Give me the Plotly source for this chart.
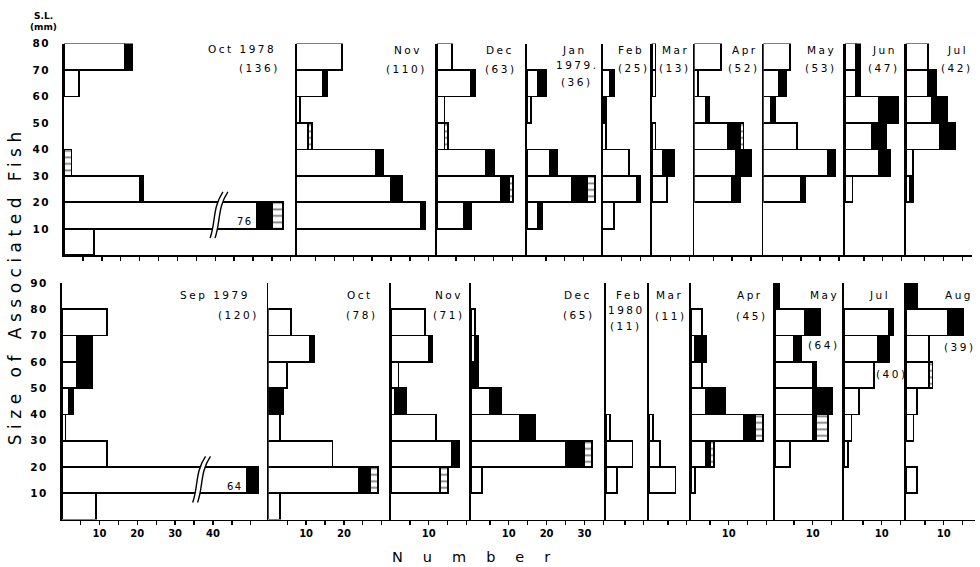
import plotly.graph_objects as go

# ---------------- DATA ----------------
# size classes (mm SL): index 0 = 0-10, 1 = 10-20, ...
top_bins = [5, 15, 25, 35, 45, 55, 65, 75]
bottom_bins = [5, 15, 25, 35, 45, 55, 65, 75, 85]

top_labels = [["Oct 1978"], ["Nov"], ["Dec"], ["Jan", "1979."], ["Feb"], ["Mar"],
              ["Apr"], ["May"], ["Jun"], ["Jul"]]
top_counts = [136, 110, 63, 36, 25, 13, 52, 53, 47, 42]
top_white = [
    [8, 76, 20, 0, 0, 0, 4, 16],
    [0, 33, 25, 21, 3, 1, 7, 12],
    [0, 7, 17, 13, 2, 2, 9, 4],
    [0, 3, 12, 6, 0, 1, 3, 0],
    [0, 3, 9, 7, 1, 0, 2, 0],
    [0, 0, 4, 3, 1, 0, 1, 1],
    [0, 0, 10, 11, 9, 3, 1, 7],
    [0, 0, 10, 17, 9, 2, 4, 7],
    [0, 0, 2, 9, 7, 9, 3, 3],
    [0, 0, 1, 2, 9, 7, 6, 6],
]
top_black = [
    [0, 4, 1, 0, 0, 0, 0, 2],
    [0, 1, 3, 2, 0, 0, 1, 0],
    [0, 2, 2, 2, 0, 0, 1, 0],
    [0, 1, 4, 2, 0, 0, 2, 0],
    [0, 0, 1, 0, 0, 1, 1, 0],
    [0, 0, 0, 3, 0, 0, 0, 0],
    [0, 0, 2, 4, 3, 1, 0, 0],
    [0, 0, 1, 2, 0, 1, 2, 0],
    [0, 0, 0, 3, 4, 5, 1, 1],
    [0, 0, 1, 0, 4, 4, 2, 0],
]
top_hatched = [
    [0, 3, 0, 2, 0, 0, 0, 0],
    [0, 0, 0, 0, 1, 0, 0, 0],
    [0, 0, 1, 0, 1, 0, 0, 0],
    [0, 0, 2, 0, 0, 0, 0, 0],
    [0, 0, 0, 0, 0, 0, 0, 0],
    [0, 0, 0, 0, 0, 0, 0, 0],
    [0, 0, 0, 0, 1, 0, 0, 0],
    [0, 0, 0, 0, 0, 0, 0, 0],
    [0, 0, 0, 0, 0, 0, 0, 0],
    [0, 0, 0, 0, 0, 0, 0, 0],
]

bottom_labels = [["Sep 1979"], ["Oct"], ["Nov"], ["Dec"], ["Feb", "1980"], ["Mar"],
                 ["Apr"], ["May"], ["Jul"], ["Aug"]]
bottom_counts = [120, 78, 71, 65, 11, 11, 45, 64, 40, 39]
bottom_white = [
    [9, 64, 12, 1, 2, 4, 4, 12, 0],
    [3, 24, 17, 3, 0, 5, 11, 6, 0],
    [0, 13, 16, 12, 1, 2, 10, 9, 0],
    [0, 3, 25, 13, 5, 0, 1, 1, 0],
    [0, 3, 7, 1, 0, 0, 0, 0, 0],
    [0, 7, 3, 1, 0, 0, 0, 0, 0],
    [0, 1, 4, 14, 4, 3, 1, 3, 0],
    [0, 0, 4, 10, 10, 10, 5, 8, 0],
    [0, 0, 1, 2, 4, 8, 9, 12, 0],
    [0, 3, 0, 2, 3, 6, 6, 11, 0],
]
bottom_black = [
    [0, 3, 0, 0, 1, 4, 4, 0, 0],
    [0, 3, 0, 0, 4, 0, 1, 0, 0],
    [0, 0, 2, 0, 3, 0, 1, 0, 0],
    [0, 0, 5, 4, 3, 2, 1, 0, 0],
    [0, 0, 0, 0, 0, 0, 0, 0, 0],
    [0, 0, 0, 0, 0, 0, 0, 0, 0],
    [0, 0, 1, 3, 5, 0, 3, 0, 0],
    [0, 0, 0, 1, 5, 1, 2, 4, 1],
    [0, 0, 0, 0, 0, 0, 3, 1, 0],
    [0, 0, 0, 0, 0, 0, 0, 4, 3],
]
bottom_hatched = [
    [0, 0, 0, 0, 0, 0, 0, 0, 0],
    [0, 2, 0, 0, 0, 0, 0, 0, 0],
    [0, 2, 0, 0, 0, 0, 0, 0, 0],
    [0, 0, 2, 0, 0, 0, 0, 0, 0],
    [0, 0, 0, 0, 0, 0, 0, 0, 0],
    [0, 0, 0, 0, 0, 0, 0, 0, 0],
    [0, 0, 1, 2, 0, 0, 0, 0, 0],
    [0, 0, 0, 3, 0, 0, 0, 0, 0],
    [0, 0, 0, 0, 0, 0, 0, 0, 0],
    [0, 0, 0, 0, 0, 1, 0, 0, 0],
]

# broken bars (first panel, 10-20 mm class): count removed at the axis break
top_break = dict(bin=1, cut=25, at=41.0)
bottom_break = dict(bin=1, cut=15, at=37.0)

top_yticks = [10, 20, 30, 40, 50, 60, 70, 80]
bottom_yticks = [10, 20, 30, 40, 50, 60, 70, 80, 90]
top_xlabelled = [[] for _ in range(10)]
bottom_xlabelled = [[10, 20, 30, 40], [10, 20], [10], [10, 20, 30], [], [], [10], [10], [10], [10]]

# ---------------- LAYOUT (pixel geometry) ----------------
W, H = 980, 567
PX_PER_UNIT = 3.78
FONT = "DejaVu Sans"

top_edges = [64, 296.5, 437, 527, 602.5, 651.7, 694.3, 763.3, 845, 905.7, 972]
bottom_edges = [61.7, 268.3, 391, 471, 606, 649, 691, 775, 844, 906, 975]

top_label_pos = [[(241, 43), (258.5, 63)], [(407, 44), (405.5, 64)], [(499, 44), (500, 64)],
                 [(573, 44), (576, 60), (576, 77)], [(630, 44), (633, 63)], [(674, 44), (674, 63)],
                 [(743.5, 44), (743, 63)], [(820, 44), (820, 63)], [(883, 44), (883, 63)],
                 [(956, 44), (956, 63)]]
bottom_label_pos = [[(214, 292), (237.5, 312)], [(358.5, 292), (361, 312)], [(447.5, 292), (447.5, 312)],
                    [(577, 292), (577.5, 312)], [(628, 292), (625, 307), (625, 323)],
                    [(668.5, 292), (669.5, 313)], [(748.5, 292), (751, 313)], [(823, 292), (822.5, 343)],
                    [(878.5, 292), (890.5, 372)], [(958, 292), (959, 345)]]


def px2x(px):
    return px / W


def py2y(py):
    return 1 - py / H


def spaced(t, sp):
    return '<span style="letter-spacing:%spx">%s</span>' % (sp, t)


def nz(v):
    return [None if a == 0 else a for a in v]


rows = [
    dict(labels=top_labels, counts=top_counts, white=top_white, black=top_black, hatch=top_hatched,
         bins=top_bins, edges=top_edges, y0=252, y1=38, ymax=80, yticks=top_yticks,
         xlab=top_xlabelled, lpos=top_label_pos, brk=top_break),
    dict(labels=bottom_labels, counts=bottom_counts, white=bottom_white, black=bottom_black,
         hatch=bottom_hatched, bins=bottom_bins, edges=bottom_edges, y0=519, y1=280, ymax=90,
         yticks=bottom_yticks, xlab=bottom_xlabelled, lpos=bottom_label_pos, brk=bottom_break),
]

fig = go.Figure()
layout = dict(width=W, height=H, margin=dict(l=0, r=0, t=0, b=0), autosize=False,
              paper_bgcolor="white", plot_bgcolor="rgba(0,0,0,0)", barmode="stack",
              showlegend=False, font=dict(family=FONT, color="black"))
annotations = []
shapes = []
LW = 1.8
idx = 0
for r in rows:
    for p in range(len(r["labels"])):
        idx += 1
        xs = "x" if idx == 1 else "x%d" % idx
        ys = "y" if idx == 1 else "y%d" % idx
        xk = "xaxis" if idx == 1 else "xaxis%d" % idx
        yk = "yaxis" if idx == 1 else "yaxis%d" % idx
        e0, e1 = r["edges"][p], r["edges"][p + 1]
        xmax = (e1 - e0) / PX_PER_UNIT
        white = list(r["white"][p])
        brk = r["brk"] if p == 0 else None
        if brk:
            white[brk["bin"]] = white[brk["bin"]] - brk["cut"]
        line = dict(color="black", width=LW)
        fig.add_trace(go.Bar(x=nz(white), y=r["bins"], orientation="h", width=10,
                             xaxis=xs, yaxis=ys, marker=dict(color="white", line=line),
                             hoverinfo="skip"))
        fig.add_trace(go.Bar(x=nz(r["black"][p]), y=r["bins"], orientation="h", width=10,
                             xaxis=xs, yaxis=ys, marker=dict(color="black", line=line),
                             hoverinfo="skip"))
        fig.add_trace(go.Bar(x=nz(r["hatch"][p]), y=r["bins"], orientation="h", width=10,
                             xaxis=xs, yaxis=ys,
                             marker=dict(color="white", line=line,
                                         pattern=dict(shape="-", fgcolor="black", bgcolor="white",
                                                      size=6.5, solidity=0.28)),
                             hoverinfo="skip"))
        tv = list(range(5, int(xmax) + 1, 5))
        tt = [str(v) if v in r["xlab"][p] else "" for v in tv]
        layout[xk] = dict(domain=[px2x(e0), px2x(e1)], range=[0, xmax], anchor=ys,
                          showline=True, linecolor="black", linewidth=LW, showgrid=False,
                          zeroline=False, ticks="outside", ticklen=4, tickwidth=1.4,
                          tickcolor="black", tickvals=tv, ticktext=tt,
                          tickfont=dict(family=FONT, size=10, color="black", weight="bold"),
                          fixedrange=True)
        first = p == 0
        layout[yk] = dict(domain=[py2y(r["y0"]), py2y(r["y1"])], range=[0, r["ymax"]], anchor=xs,
                          showline=True, linecolor="black", linewidth=LW, showgrid=False,
                          zeroline=False, showticklabels=first,
                          tickvals=r["yticks"] if first else [],
                          ticktext=[spaced(str(v), 1.5) for v in r["yticks"]] if first else [],
                          ticks="outside" if first else "", ticklen=10,
                          tickcolor="rgba(0,0,0,0)",
                          tickfont=dict(family=FONT, size=10.5, color="black", weight="bold"),
                          fixedrange=True)
        # month / count labels
        lines = list(r["labels"][p]) + ["(%d)" % r["counts"][p]]
        for t, (cx, cy) in zip(lines, r["lpos"][p]):
            sp = 2.5
            annotations.append(dict(text=spaced(t, sp), x=px2x(cx + sp / 2), y=py2y(cy),
                                    xref="paper", yref="paper", xanchor="center",
                                    yanchor="middle", showarrow=False,
                                    font=dict(family=FONT, size=10.5, color="black")))
        # broken bar: true count label and break mark
        if brk:
            b = brk["bin"]
            annotations.append(dict(text=spaced(str(r["white"][p][b]), 1.5), x=white[b] - 0.5,
                                    y=r["bins"][b] - 2.3, xref=xs, yref=ys, xanchor="right",
                                    yanchor="middle", showarrow=False,
                                    font=dict(family=FONT, size=10, color="black")))
            a = brk["at"]

            def curve(d):
                return [(a - 1.7 + d, 6.5), (a - 0.2 + d, 12.5), (a - 1.1 + d, 18), (a + 1.7 + d, 24)]

            L, R = curve(-0.65), curve(0.65)
            fill = "M %f,%f C %f,%f %f,%f %f,%f L %f,%f C %f,%f %f,%f %f,%f Z" % (
                L[0] + L[1] + L[2] + L[3] + R[3] + R[2] + R[1] + R[0])
            shapes.append(dict(type="path", path=fill, xref=xs, yref=ys, fillcolor="white",
                               line=dict(width=0), layer="above"))
            for c in (L, R):
                pth = "M %f,%f C %f,%f %f,%f %f,%f" % (c[0] + c[1] + c[2] + c[3])
                shapes.append(dict(type="path", path=pth, xref=xs, yref=ys,
                                   line=dict(color="black", width=1.4), layer="above"))

# general texts
annotations.append(dict(text="<b>S.L.</b>", x=px2x(43), y=py2y(10), xref="paper", yref="paper",
                        xanchor="center", yanchor="middle",
                        showarrow=False, font=dict(family=FONT, size=9, color="black")))
annotations.append(dict(text="<b>(mm)</b>", x=px2x(43), y=py2y(21), xref="paper", yref="paper",
                        xanchor="center", yanchor="middle",
                        showarrow=False, font=dict(family=FONT, size=9, color="black")))
annotations.append(dict(text=spaced("Number", 20), x=px2x(471 + 10), y=py2y(557), xref="paper",
                        yref="paper", showarrow=False, xanchor="center", yanchor="middle",
                        font=dict(family=FONT, size=14.5, color="black")))
annotations.append(dict(text=spaced("Size of Associated Fish", 5.5), x=px2x(15), y=py2y(286 - 2.7),
                        xref="paper", yref="paper", showarrow=False, textangle=-90,
                        xanchor="center", yanchor="middle",
                        font=dict(family=FONT, size=17, color="black")))

layout["annotations"] = annotations
layout["shapes"] = shapes
fig.update_layout(**layout)
fig.write_html(
    "out.html",
    config={"displayModeBar": False, "staticPlot": True},
    post_script=(
        "document.body.style.margin='0px';document.body.style.padding='0px';"
        "var gd=document.getElementById('{plot_id}');"
        "gd.style.position='absolute';gd.style.left='0px';gd.style.top='0px';"
    ),
)
